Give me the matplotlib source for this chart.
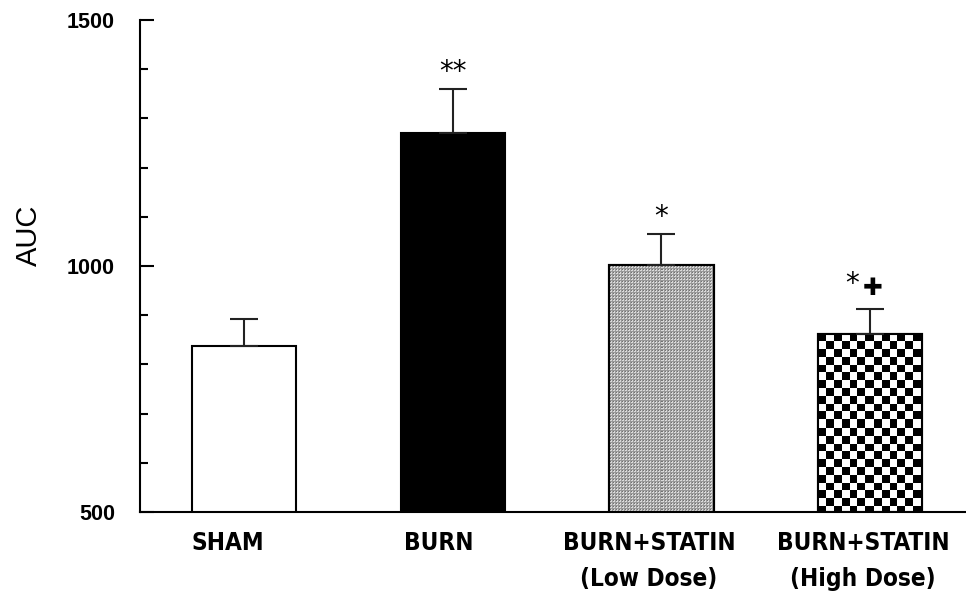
import numpy as np
import matplotlib
matplotlib.use("Agg")
import matplotlib.pyplot as plt
import matplotlib.transforms as mtransforms
from matplotlib.ticker import MultipleLocator

plt.rcParams['font.family'] = ['Liberation Sans', 'DejaVu Sans']

groups = ["SHAM", "BURN", "BURN+STATIN\n(Low Dose)", "BURN+STATIN\n(High Dose)"]
auc_mean = [837, 1270, 1002, 862]
auc_sem = [55, 90, 63, 50]
marks = ["", "**", "*", "*"]

fig = plt.figure(figsize=(9.66, 5.97), dpi=100)
ax = fig.add_axes([0.145, 0.1424, 0.855, 0.8241])

x = np.arange(len(groups))
bars = ax.bar(x, auc_mean, width=0.5, bottom=0, color=["white", "black", "white", "white"],
              edgecolor="black", linewidth=1.5, zorder=2)
ax.errorbar(x, auc_mean, yerr=[np.zeros(len(x)), auc_sem], fmt="none", ecolor="#222222",
            elinewidth=1.5, capsize=10, capthick=1.5, zorder=3)

ax.set_xlim(-0.5, 3.46)
ax.set_ylim(500, 1500)

# pattern fills drawn as images clipped to the bars
fig.canvas.draw()
def fill_pattern(bar, kind):
    x0, y0 = bar.get_x(), 500
    x1, y1 = bar.get_x() + bar.get_width(), bar.get_height()
    p0 = ax.transData.transform((x0, y0))
    p1 = ax.transData.transform((x1, y1))
    w = int(round(abs(p1[0] - p0[0])))
    h = int(round(abs(p1[1] - p0[1])))
    yy, xx = np.mgrid[0:h, 0:w]
    if kind == "fine":
        img = np.full((h, w), 0.85)
        img[(xx % 3 == 0) | (yy % 3 == 0)] = 0.6
        img[(xx % 3 == 1) & (yy % 3 == 1)] = 0.45
    else:
        s = 7.8
        img = (((xx // s).astype(int) + (yy // s).astype(int)) % 2).astype(float)
    im = ax.imshow(img, cmap="gray", vmin=0, vmax=1, extent=(x0, x1, y0, y1),
                   interpolation="nearest", aspect="auto", zorder=2.1)
    im.set_clip_path(bar)
    ax.add_patch(plt.Rectangle((x0, y0), x1 - x0, y1 - y0, fill=False,
                               edgecolor="black", linewidth=1.5, zorder=2.2))

fill_pattern(bars[2], "fine")
fill_pattern(bars[3], "check")
ax.set_xlim(-0.5, 3.46)
ax.set_ylim(500, 1500)

star_dx = [0, 0, 0, -13]
star_dy = [0, 2, 2, 8]
for xi, mval, sval, mk, dx, dy in zip(x, auc_mean, auc_sem, marks, star_dx, star_dy):
    if mk:
        ax.annotate(mk, (xi, mval + sval), xytext=(dx, dy), textcoords="offset points",
                    ha="center", va="bottom", fontsize=20, family=['DejaVu Sans'])
ax.annotate("✚", (x[3], auc_mean[3] + auc_sem[3]), xytext=(2, 7), textcoords="offset points",
            ha="center", va="bottom", fontsize=17, family=['DejaVu Sans'])

ax.spines["top"].set_visible(False)
ax.spines["right"].set_visible(False)
ax.spines["left"].set_linewidth(1.5)
ax.spines["bottom"].set_linewidth(1.5)

ax.yaxis.set_major_locator(MultipleLocator(500))
ax.yaxis.set_minor_locator(MultipleLocator(100))
ax.tick_params(axis="y", which="major", direction="in", length=10, width=1.5, pad=18, labelsize=15.5)
ax.tick_params(axis="y", which="minor", direction="in", length=6, width=1.5)
for lab in ax.get_yticklabels():
    lab.set_fontweight("bold")

ax.set_xticks(x)
ax.set_xticklabels(groups, fontweight="bold", fontsize=17.5, family=['DejaVu Sans'],
                   fontstretch="condensed", linespacing=1.6)
ax.tick_params(axis="x", length=0, pad=14)
# labels sit a little left of the bar centres in the original
label_shift = [-12, -10, -9, -5]
for lab, sh in zip(ax.get_xticklabels(), label_shift):
    lab.set_transform(lab.get_transform() + mtransforms.ScaledTranslation(sh / 72, 0, fig.dpi_scale_trans))

ax.set_ylabel("AUC", fontsize=21)
ax.yaxis.set_label_coords(-0.117, 0.563)

fig.savefig("out.png", dpi=100)
